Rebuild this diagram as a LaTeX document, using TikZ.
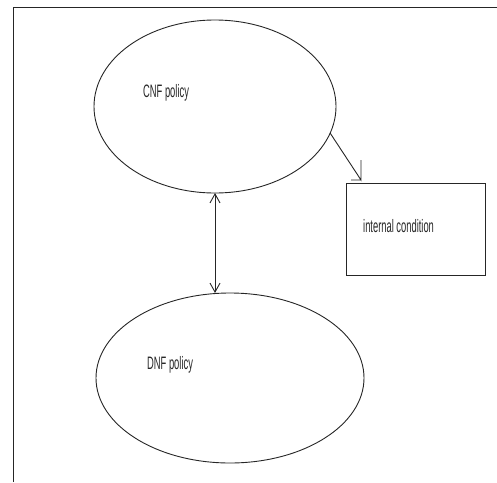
\documentclass[tikz,border=0pt]{standalone}
\usepackage{fontspec}
\newfontfamily\narrowfont[FakeStretch=0.52]{Liberation Sans}
\usetikzlibrary{shapes.geometric,arrows.meta}
\begin{document}
\begin{tikzpicture}[x=1pt,y=-1pt,
  ln/.style={draw=black!85,line width=0.9pt},
  oval/.style={ln,ellipse,inner sep=0pt,outer sep=0pt},
  boxnode/.style={ln,rectangle,inner sep=0pt,outer sep=0pt},
  lbl/.style={inner sep=0pt,anchor=base west,font=\narrowfont\fontsize{18}{20}\selectfont,text=black!85},
  barb/.style={-{Straight Barb[length=9pt,width=10pt,line width=0.9pt]}},
]
\useasboundingbox (0,0) rectangle (497,482);
% frame lines
\draw[ln] (13,482) -- (13,7) -- (497,7);
% shapes
\node[oval,minimum width=242pt,minimum height=173pt] (cnf) at (215,106.5) {};
\node[oval,minimum width=268pt,minimum height=170pt] (dnf) at (230,378) {};
\node[boxnode,minimum width=139pt,minimum height=92pt] (box) at (415.5,229) {};
% labels
\node[lbl] (cnftext) at (143,97) {CNF policy};
\node[lbl] (dnftext) at (147,369) {DNF policy};
\node[lbl] (boxtext) at (363,232) {internal condition};
% connectors
\draw[ln,{Straight Barb[length=9pt,width=10pt,line width=0.9pt]}-{Straight Barb[length=9pt,width=10pt,line width=0.9pt]}]
  (cnf.south) -- (cnf.south |- dnf.north);
\coordinate (tip) at (361,180);
\draw[ln] (cnf.-13.9) -- (tip) -- ++(0,-20) (tip) -- ++(-10,0);
\end{tikzpicture}
\end{document}
